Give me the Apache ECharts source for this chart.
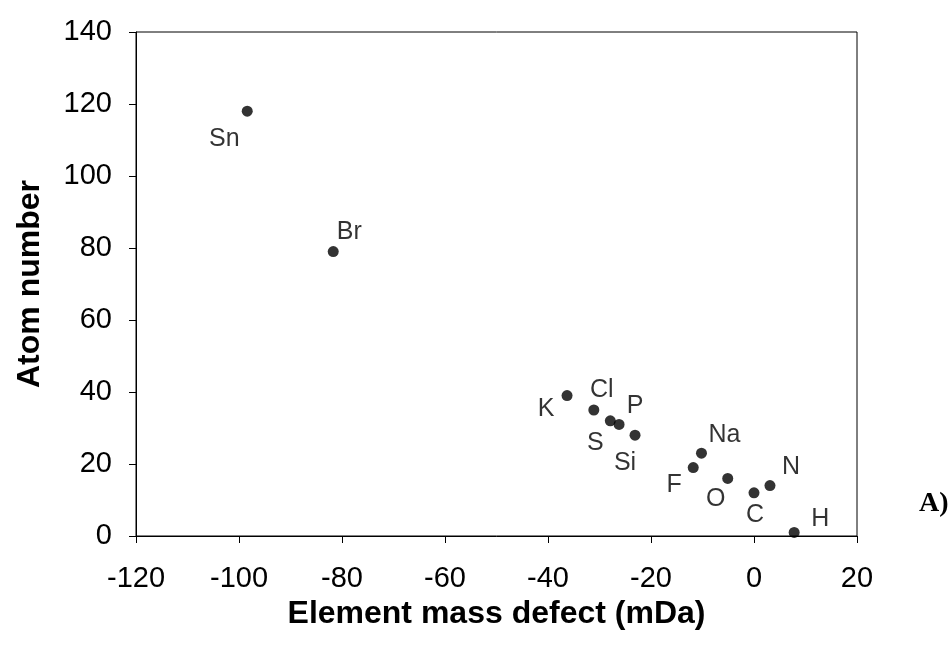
<!DOCTYPE html>
<html>
<head>
<meta charset="utf-8">
<script src="https://cdn.jsdelivr.net/npm/echarts@6/dist/echarts.min.js"></script>
<style>
  html, body { margin: 0; padding: 0; background: #fff; }
  #chart { width: 952px; height: 646px; }
</style>
</head>
<body>
<div id="chart"></div>
<script>
// element symbols, mass defect (mDa) and atom number
const elements = ['Sn', 'Br', 'K', 'Cl', 'S', 'P', 'Si', 'Na', 'F', 'O', 'C', 'N', 'H'];
const massDefect = [-98.4, -81.7, -36.3, -31.1, -27.9, -26.2, -23.1, -10.2, -11.8, -5.1, 0, 3.1, 7.8];
const atomNumber = [118, 79, 39, 35, 32, 31, 28, 23, 19, 16, 12, 14, 1];
const xTicks = [-120, -100, -80, -60, -40, -20, 0, 20];
const yTicks = [0, 20, 40, 60, 80, 100, 120, 140];

// label offsets from the dot, in px
const labelOffset = {
  Sn: [-23, 28], Br: [16, -19], K: [-21, 14], Cl: [8, -20], S: [-15, 22],
  P: [16, -18], Si: [-10, 28], Na: [23, -18], F: [-19, 18], O: [-12, 21],
  C: [1, 22], N: [21, -18], H: [26, -13]
};

const chart = echarts.init(document.getElementById('chart'));

var points = [];
for (var i = 0; i < elements.length; i++) {
  points.push({
    value: [massDefect[i], atomNumber[i]],
    label: { offset: labelOffset[elements[i]] }
  });
}

const font = 'Liberation Sans, Arial, sans-serif';

var option = {
  animation: false,
  grid: {
    left: 136, right: 95, top: 32, bottom: 110,
    show: true, borderColor: '#000', borderWidth: 1
  },
  xAxis: {
    type: 'value',
    min: xTicks[0], max: xTicks[xTicks.length - 1], interval: 20,
    name: 'Element mass defect (mDa)',
    nameLocation: 'middle', nameGap: 58,
    nameTextStyle: { fontFamily: font, fontSize: 32, fontWeight: 'bold', color: '#000' },
    axisLine: { onZero: false, lineStyle: { color: '#000' } },
    axisTick: { inside: false, length: 7, lineStyle: { color: '#000' } },
    axisLabel: { fontFamily: font, fontSize: 29, color: '#000', margin: 28 },
    splitLine: { show: false }
  },
  yAxis: {
    type: 'value',
    min: yTicks[0], max: yTicks[yTicks.length - 1], interval: 20,
    name: 'Atom number',
    nameLocation: 'middle', nameGap: 90,
    nameTextStyle: { fontFamily: font, fontSize: 32, fontWeight: 'bold', color: '#000' },
    axisLine: { show: true, onZero: false, lineStyle: { color: '#000' } },
    axisTick: { show: true, inside: false, length: 7, lineStyle: { color: '#000' } },
    axisLabel: { fontFamily: font, fontSize: 29, color: '#000', margin: 24 },
    splitLine: { show: false }
  },
  series: [{
    type: 'scatter',
    symbol: 'circle',
    symbolSize: 11,
    itemStyle: { color: '#000' },
    data: points,
    label: {
      show: true,
      position: 'inside',
      fontFamily: font,
      fontSize: 25,
      color: '#000',
      formatter: function (p) { return elements[p.dataIndex]; }
    }
  }],
  graphic: [{
    type: 'text',
    left: 919, top: 490,
    style: { text: 'A)', fontFamily: 'Liberation Serif, Times New Roman, serif', fontSize: 28, fontWeight: 'bold', fill: '#000' }
  }]
};

chart.setOption(option);
</script>
</body>
</html>
